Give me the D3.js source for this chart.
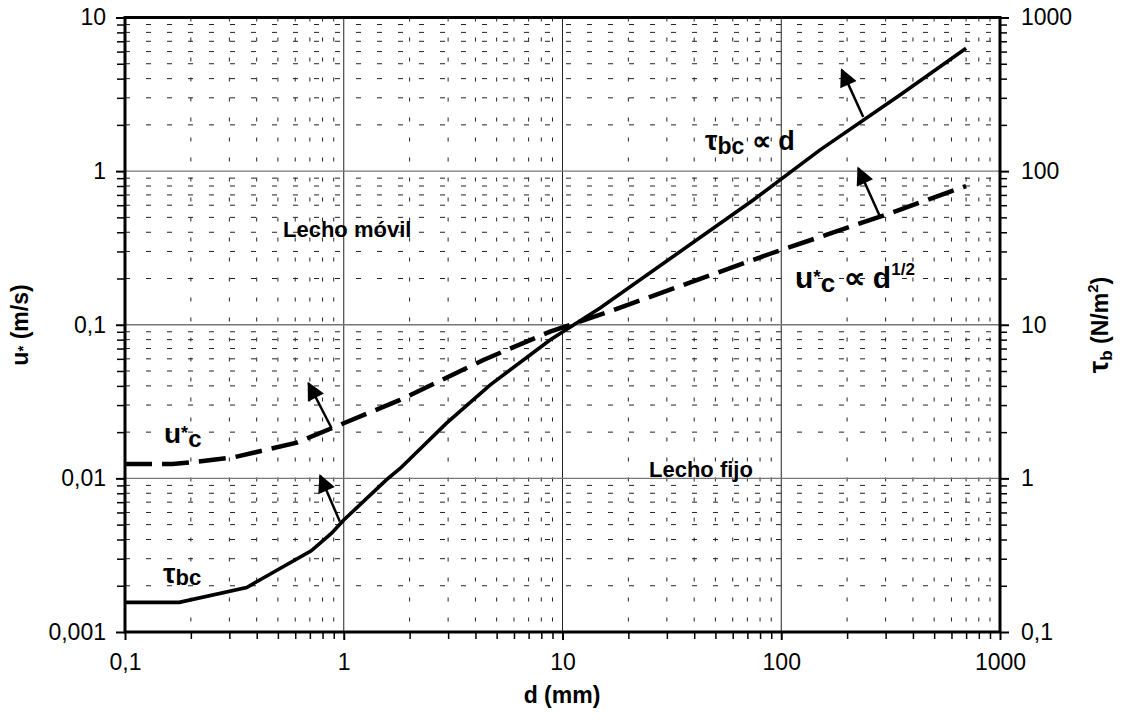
<!DOCTYPE html>
<html>
<head>
<meta charset="utf-8">
<script src="https://cdn.jsdelivr.net/npm/d3@7"></script>
<style>
  body { margin: 0; background: #fff; }
  text { font-family: "Liberation Sans", Arial, sans-serif; fill: #000; }
</style>
</head>
<body>
<svg id="chart" width="1126" height="726"></svg>
<script>
// tau_bc curve (N/m2, right axis) vs d (mm)
var tauD = [0.1, 0.177, 0.36, 0.71, 0.88, 1.0, 1.57, 1.81, 2.95, 4.66, 8.77, 14.8, 74.5, 150, 349, 700];
var tauV = [0.156, 0.156, 0.195, 0.338, 0.44, 0.536, 0.98, 1.16, 2.29, 4.05, 7.96, 12.8, 64.9, 137, 313, 630];
// u*c curve (m/s, left axis) vs d (mm)
var uD = [0.1, 0.165, 0.213, 0.313, 0.61, 0.88, 1.81, 4.35, 8.77, 15.6, 90.4, 314, 700];
var uV = [0.0124, 0.0124, 0.01285, 0.0137, 0.0171, 0.0212, 0.0324, 0.059, 0.0902, 0.119, 0.292, 0.532, 0.80];

var xTicks = [0.1, 1, 10, 100, 1000];
var xLabels = ["0,1", "1", "10", "100", "1000"];
var yLTicks = [0.001, 0.01, 0.1, 1, 10];
var yLLabels = ["0,001", "0,01", "0,1", "1", "10"];
var yRTicks = [0.1, 1, 10, 100, 1000];
var yRLabels = ["0,1", "1", "10", "100", "1000"];

// arrows: [d0, v0, d1, v1, axis]
var arrows = [
  [0.96, 0.523, 0.78, 1.04, "R"],
  [0.88, 0.0212, 0.69, 0.0416, "L"],
  [237, 225, 189, 456, "R"],
  [283, 0.505, 225, 1.045, "L"]
];

var svg = d3.select("#chart");
var x = d3.scaleLog().domain([0.1, 1000]).range([125, 1000]);
var yL = d3.scaleLog().domain([0.001, 10]).range([632, 17.5]);
var yR = d3.scaleLog().domain([0.1, 1000]).range([632, 17.5]);

function minors(lo, hi) {
  var out = [];
  for (var dec = lo; dec < hi; dec *= 10) {
    for (var k = 2; k <= 9; k++) out.push(+(dec * k).toPrecision(3));
  }
  return out;
}
var xMinor = minors(0.1, 1000);
var yMinor = minors(0.001, 10);

var pTop = yL.range()[1], pBot = yL.range()[0], pLeft = x.range()[0], pRight = x.range()[1];

// minor grid
svg.append("g").selectAll("line").data(xMinor).enter().append("line")
  .attr("x1", function(d){ return x(d); }).attr("x2", function(d){ return x(d); })
  .attr("y1", pTop).attr("y2", pBot)
  .style("stroke", "#222").style("stroke-width", 1).style("stroke-dasharray", "4,16");
svg.append("g").selectAll("line").data(yMinor).enter().append("line")
  .attr("y1", function(d){ return yL(d); }).attr("y2", function(d){ return yL(d); })
  .attr("x1", pLeft).attr("x2", pRight)
  .style("stroke", "#222").style("stroke-width", 1).style("stroke-dasharray", "5,16");

// major grid
svg.append("g").selectAll("line").data(xTicks.slice(1, 4)).enter().append("line")
  .attr("x1", function(d){ return x(d); }).attr("x2", function(d){ return x(d); })
  .attr("y1", pTop).attr("y2", pBot)
  .style("stroke", "#222").style("stroke-width", 1);
svg.append("g").selectAll("line").data(yLTicks.slice(1, 4)).enter().append("line")
  .attr("y1", function(d){ return yL(d); }).attr("y2", function(d){ return yL(d); })
  .attr("x1", pLeft).attr("x2", pRight)
  .style("stroke", "#777").style("stroke-width", 1.3);

// axes
function styleAxis(g, w) {
  g.select(".domain").remove();
  g.selectAll("line").style("stroke", "#000").style("stroke-width", w);
}
var fs = "23px";
var gx = svg.append("g").attr("transform", "translate(0," + pBot + ")")
  .call(d3.axisBottom(x).tickValues(xTicks).tickSize(8).tickPadding(14)
    .tickFormat(function(d, i){ return xLabels[i]; }));
styleAxis(gx, 2); gx.selectAll("text").style("font-size", fs);
var gxm = svg.append("g").attr("transform", "translate(0," + pBot + ")")
  .call(d3.axisBottom(x).tickValues(xMinor).tickSize(7).tickFormat(""));
styleAxis(gxm, 1.5);

var gl = svg.append("g").attr("transform", "translate(" + pLeft + ",0)")
  .call(d3.axisLeft(yL).tickValues(yLTicks).tickSize(9).tickPadding(10)
    .tickFormat(function(d, i){ return yLLabels[i]; }));
styleAxis(gl, 2); gl.selectAll("text").style("font-size", fs);
var glm = svg.append("g").attr("transform", "translate(" + pLeft + ",0)")
  .call(d3.axisLeft(yL).tickValues(yMinor).tickSize(8).tickFormat(""));
styleAxis(glm, 1.5);

var gr = svg.append("g").attr("transform", "translate(" + pRight + ",0)")
  .call(d3.axisRight(yR).tickValues(yRTicks).tickSize(9).tickPadding(12)
    .tickFormat(function(d, i){ return yRLabels[i]; }));
styleAxis(gr, 2); gr.selectAll("text").style("font-size", fs);
var grm = svg.append("g").attr("transform", "translate(" + pRight + ",0)")
  .call(d3.axisRight(yR).tickValues(minors(0.1, 1000)).tickSize(7).tickFormat(""));
styleAxis(grm, 1.5);

// frame
svg.append("rect").attr("x", pLeft).attr("y", pTop).attr("width", pRight - pLeft).attr("height", pBot - pTop)
  .style("fill", "none").style("stroke", "#000").style("stroke-width", 3);

// curves
var tauLine = d3.line().x(function(d){ return x(d[0]); }).y(function(d){ return yR(d[1]); });
var uLine = d3.line().x(function(d){ return x(d[0]); }).y(function(d){ return yL(d[1]); });
svg.append("path").datum(d3.zip(tauD, tauV)).attr("d", tauLine)
  .style("fill", "none").style("stroke", "#000").style("stroke-width", 3.6);
svg.append("path").datum(d3.zip(uD, uV)).attr("d", uLine)
  .style("fill", "none").style("stroke", "#000").style("stroke-width", 4.5)
  .style("stroke-dasharray", "27,10");

// arrows
svg.append("defs").append("marker").attr("id", "ah")
  .attr("viewBox", "0 0 10 10").attr("refX", 9).attr("refY", 5)
  .attr("markerWidth", 20).attr("markerHeight", 18).attr("markerUnits", "userSpaceOnUse")
  .attr("orient", "auto")
  .append("path").attr("d", "M0,0L10,5L0,10Z").style("fill", "#000");
svg.append("g").selectAll("line").data(arrows).enter().append("line")
  .attr("x1", function(a){ return x(a[0]); })
  .attr("y1", function(a){ return a[4] == "R" ? yR(a[1]) : yL(a[1]); })
  .attr("x2", function(a){ return x(a[2]); })
  .attr("y2", function(a){ return a[4] == "R" ? yR(a[3]) : yL(a[3]); })
  .style("stroke", "#000").style("stroke-width", 2.5)
  .attr("marker-end", "url(#ah)");

// labels inside plot
function label(px, py, parts, size) {
  var t = svg.append("text").attr("x", px).attr("y", py)
    .style("font-size", size + "px").style("font-weight", "bold");
  parts.forEach(function(p) {
    var s = t.append("tspan").text(p[0]);
    if (p[1]) s.style("font-size", p[1] + "px");
    if (p[2]) s.attr("dy", p[2]);
  });
  return t;
}
label(283, 237, [["Lecho móvil"]], 22);
label(649, 477, [["Lecho fijo"]], 22);
label(163, 583, [["τ", 28], ["bc", 22, 2]], 22);
label(164, 443, [["u", 28], ["*", 18, -4], ["c", 24, 8]], 24);
label(705, 150, [["τ", 28], ["bc", 23, 4], [" ∝ d", 27, -4]], 24);
label(795, 288, [["u", 30], ["*", 19, -5], ["c", 26, 9], [" ∝ d", 30, -4], ["1/2", 17, -13]], 26);

// axis titles
svg.append("text").attr("x", 562).attr("y", 703).attr("text-anchor", "middle")
  .style("font-size", "23px").style("font-weight", "bold").text("d (mm)");
var tl = svg.append("text").attr("transform", "translate(28,325) rotate(-90)")
  .attr("text-anchor", "middle").style("font-size", "23px").style("font-weight", "bold");
tl.append("tspan").text("u");
tl.append("tspan").text("*").style("font-size", "15px");
tl.append("tspan").text(" (m/s)");
var tr = svg.append("text").attr("transform", "translate(1108,325) rotate(-90)")
  .attr("text-anchor", "middle").style("font-size", "23px").style("font-weight", "bold");
tr.append("tspan").text("τ").style("font-size", "28px");
tr.append("tspan").text("b").style("font-size", "17px").attr("dy", 4);
tr.append("tspan").text(" (N/m").attr("dy", -4);
tr.append("tspan").text("2").style("font-size", "15px").attr("dy", -10);
tr.append("tspan").text(")").attr("dy", 10);
</script>
</body>
</html>
